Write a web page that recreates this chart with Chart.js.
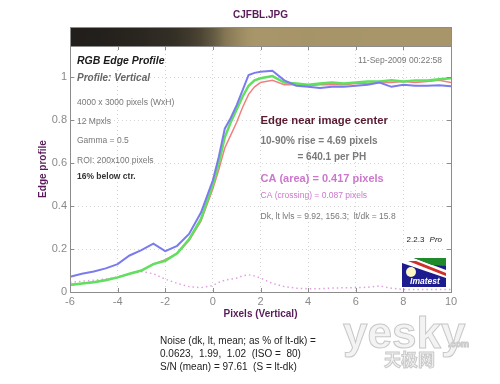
<!DOCTYPE html>
<html>
<head>
<meta charset="utf-8">
<script src="https://cdn.jsdelivr.net/npm/chart.js@4/dist/chart.umd.min.js"></script>
<style>
  html, body { margin: 0; padding: 0; background: #fff; }
  #wrap { width: 500px; height: 384px; }
</style>
</head>
<body>
<div id="wrap"><canvas id="edgeChart" width="500" height="384"></canvas></div>
<script>
const xPixels = [-6, -5.5, -5, -4.5, -4, -3.5, -3, -2.5, -2, -1.5, -1, -0.5, 0, 0.25, 0.5, 0.75, 1, 1.25, 1.5, 1.75, 2, 2.5, 3, 3.5, 4, 4.5, 5, 5.5, 6, 6.5, 7, 7.5, 8, 8.5, 9, 9.5, 10];
const blueEdge = [0.071, 0.085, 0.095, 0.11, 0.13, 0.17, 0.195, 0.225, 0.19, 0.215, 0.27, 0.37, 0.52, 0.63, 0.76, 0.81, 0.87, 0.94, 1.01, 1.02, 1.025, 1.03, 0.985, 0.96, 0.955, 0.95, 0.955, 0.955, 0.96, 0.965, 0.975, 0.955, 0.965, 0.96, 0.96, 0.962, 0.958];
const greenEdge = [0.033, 0.04, 0.045, 0.055, 0.068, 0.085, 0.1, 0.13, 0.145, 0.18, 0.245, 0.34, 0.5, 0.6, 0.72, 0.79, 0.85, 0.91, 0.96, 0.985, 0.995, 1.005, 0.975, 0.97, 0.965, 0.97, 0.975, 0.97, 0.975, 0.98, 0.98, 0.985, 0.98, 0.985, 0.985, 0.99, 0.995];
const redEdge = [0.035, 0.04, 0.047, 0.056, 0.068, 0.085, 0.1, 0.13, 0.15, 0.18, 0.24, 0.33, 0.48, 0.57, 0.67, 0.73, 0.79, 0.86, 0.92, 0.955, 0.975, 0.985, 0.965, 0.965, 0.96, 0.965, 0.965, 0.965, 0.97, 0.97, 0.975, 0.975, 0.98, 0.975, 0.98, 0.985, 0.975];
const caCurve = [0.045, 0.05, 0.055, 0.06, 0.07, 0.085, 0.095, 0.085, 0.06, 0.04, 0.025, 0.02, 0.03, 0.045, 0.055, 0.06, 0.065, 0.075, 0.08, 0.075, 0.065, 0.04, 0.025, 0.018, 0.015, 0.015, 0.018, 0.02, 0.02, 0.022, 0.028, 0.018, 0.012, 0.012, 0.012, 0.012, 0.012];

const xTicks = [-6, -4, -2, 0, 2, 4, 6, 8, 10];
const yTicks = [0, 0.2, 0.4, 0.6, 0.8, 1];
const yTickLabels = ['0', '0.2', '0.4', '0.6', '0.8', '1'];

const chartTitle = 'CJFBL.JPG';
const xTitle = 'Pixels (Vertical)';
const yTitle = 'Edge profile';
const noiseLines = [
    'Noise (dk, lt, mean; as % of lt-dk) =',
    '0.0623,  1.99,  1.02  (ISO =  80)',
    'S/N (mean) = 97.61  (S = lt-dk)'
];

const FONT = "'Liberation Sans', Arial, sans-serif";
const PURPLE = '#5a1a5a';

function toPoints(values) {
    return xPixels.map((x, i) => ({ x: x, y: values[i] }));
}

function mixColor(v) {
    const t = Math.max(0, Math.min(1, v / 0.98));
    const dark = [28, 26, 24];
    const tan = [168, 150, 106];
    const c = dark.map((d, i) => Math.round(d + (tan[i] - d) * t));
    return `rgb(${c[0]},${c[1]},${c[2]})`;
}

function drawText(ctx, text, x, y, font, color, align) {
    ctx.font = font;
    ctx.fillStyle = color;
    ctx.textAlign = align || 'left';
    ctx.textBaseline = 'middle';
    ctx.fillText(text, x, y);
}

const decorPlugin = {
    id: 'decor',
    beforeDraw(chart) {
        const ctx = chart.ctx;
        ctx.save();
        ctx.fillStyle = '#fff';
        ctx.fillRect(0, 0, chart.width, chart.height);
        ctx.restore();
    },
    afterDatasetsDraw(chart) {
        const ctx = chart.ctx;
        const { left, right, top, bottom } = chart.chartArea;
        const xs = chart.scales.x;
        const ys = chart.scales.y;
        ctx.save();

        // frame + inward ticks
        ctx.strokeStyle = '#8c8c8c';
        ctx.lineWidth = 1;
        ctx.strokeRect(left + 0.5, top - 19 + 0.5, right - left, bottom - top + 19);
        ctx.beginPath();
        xTicks.forEach(v => {
            const px = Math.round(xs.getPixelForValue(v)) + 0.5;
            ctx.moveTo(px, bottom); ctx.lineTo(px, bottom - 4);
            ctx.moveTo(px, top); ctx.lineTo(px, top + 4);
        });
        yTicks.forEach(v => {
            const py = Math.round(ys.getPixelForValue(v)) + 0.5;
            ctx.moveTo(left, py); ctx.lineTo(left + 4, py);
            ctx.moveTo(right, py); ctx.lineTo(right - 4, py);
        });
        ctx.stroke();

        // edge image strip above the plot
        const w = right - left;
        const grad = ctx.createLinearGradient(left, 0, right, 0);
        xPixels.forEach((x, i) => {
            grad.addColorStop((xs.getPixelForValue(x) - left) / w, mixColor(greenEdge[i]));
        });
        ctx.fillStyle = grad;
        ctx.fillRect(left + 1, top - 18, w - 1, 18);
        ctx.strokeStyle = '#8c8c8c';
        ctx.beginPath();
        ctx.moveTo(left, top + 0.5); ctx.lineTo(right, top + 0.5);
        ctx.stroke();

        // left info block
        const lx = left + 7;
        drawText(ctx, 'RGB Edge Profile', lx, 61, `italic bold 10.5px ${FONT}`, '#1a1a1a');
        drawText(ctx, 'Profile: Vertical', lx, 78, `italic bold 10px ${FONT}`, '#666');
        drawText(ctx, '4000 x 3000 pixels (WxH)', lx, 103, `8.5px ${FONT}`, '#777');
        drawText(ctx, '12 Mpxls', lx, 122, `8.5px ${FONT}`, '#777');
        drawText(ctx, 'Gamma = 0.5', lx, 141, `8.5px ${FONT}`, '#777');
        drawText(ctx, 'ROI: 200x100 pixels', lx, 161, `8.5px ${FONT}`, '#777');
        drawText(ctx, '16% below ctr.', lx, 177, `bold 8.5px ${FONT}`, '#333');
        drawText(ctx, '11-Sep-2009 00:22:58', right - 9, 61, `8.5px ${FONT}`, '#777', 'right');

        // right info block
        const rx = xs.getPixelForValue(2);
        drawText(ctx, 'Edge near image center', rx, 121, `bold 11.3px ${FONT}`, '#5a1a32');
        drawText(ctx, '10-90% rise = 4.69 pixels', rx, 141, `bold 10px ${FONT}`, '#7a7a7a');
        drawText(ctx, '= 640.1 per PH', rx + 37, 157, `bold 10px ${FONT}`, '#7a7a7a');
        drawText(ctx, 'CA (area) = 0.417 pixels', rx, 179, `bold 11px ${FONT}`, '#cc77cc');
        drawText(ctx, 'CA (crossing) = 0.087 pixels', rx, 196, `8.5px ${FONT}`, '#cc77cc');
        drawText(ctx, 'Dk, lt lvls = 9.92, 156.3;  lt/dk = 15.8', rx, 217, `8.5px ${FONT}`, '#777');

        // version + logo
        drawText(ctx, 'Pro', right - 9, 240, `italic 8px ${FONT}`, '#222', 'right');
        ctx.font = `italic 8px ${FONT}`;
        const proW = ctx.measureText('Pro').width;
        drawText(ctx, '2.2.3 ', right - 9 - proW - 3, 240, `8px ${FONT}`, '#222', 'right');

        const gx = right - 49, gy = bottom - 34, gw = 44, gh = 29;
        ctx.fillStyle = '#1c1c8e';
        ctx.fillRect(gx, gy, gw, gh);
        ctx.fillStyle = '#ffffff';
        ctx.beginPath();
        ctx.moveTo(gx, gy); ctx.lineTo(gx + 12, gy); ctx.lineTo(gx + gw, gy + 12);
        ctx.lineTo(gx + gw, gy + 20); ctx.lineTo(gx, gy + 5); ctx.closePath(); ctx.fill();
        ctx.fillStyle = '#d0302a';
        ctx.beginPath();
        ctx.moveTo(gx + 6, gy + 3); ctx.lineTo(gx + 14, gy + 3); ctx.lineTo(gx + gw, gy + 15);
        ctx.lineTo(gx + gw, gy + 18); ctx.closePath(); ctx.fill();
        ctx.fillStyle = '#1f8a2a';
        ctx.beginPath();
        ctx.moveTo(gx + 12, gy); ctx.lineTo(gx + gw, gy); ctx.lineTo(gx + gw, gy + 8);
        ctx.lineTo(gx + 30, gy + 7); ctx.closePath(); ctx.fill();
        ctx.fillStyle = '#fbf6c4';
        ctx.beginPath();
        ctx.arc(gx + 9, gy + 14, 5, 0, Math.PI * 2);
        ctx.fill();
        drawText(ctx, 'Imatest', gx + gw / 2 + 1, gy + 23.5, `italic bold 8.5px ${FONT}`, '#ffffff', 'center');

        ctx.restore();
    },
    afterDraw(chart) {
        const ctx = chart.ctx;
        const { left, right } = chart.chartArea;
        ctx.save();
        drawText(ctx, chartTitle, (left + right) / 2, 15, `bold 10px ${FONT}`, PURPLE, 'center');

        // watermark
        ctx.font = `bold 44px ${FONT}`;
        ctx.textAlign = 'left';
        ctx.textBaseline = 'alphabetic';
        ctx.fillStyle = '#f3f3f3';
        ctx.strokeStyle = '#c8c8c8';
        ctx.lineWidth = 1;
        ctx.fillText('yesky', 343, 348);
        ctx.strokeText('yesky', 343, 348);
        ctx.font = `bold 9px ${FONT}`;
        ctx.fillText('.com', 448, 347);
        ctx.strokeText('.com', 448, 347);
        ctx.font = `bold 17px 'Noto Sans CJK SC', sans-serif`;
        ctx.fillText('天极网', 384, 366);
        ctx.strokeText('天极网', 384, 366);

        noiseLines.forEach((t, i) => {
            drawText(ctx, t, 160, 341 + i * 13, `10px ${FONT}`, '#222');
        });
        ctx.restore();
    }
};

const ctx = document.getElementById('edgeChart').getContext('2d');
const edgeChart = new Chart(ctx, {
    type: 'line',
    data: {
        datasets: [
            { label: 'Blue', data: toPoints(blueEdge), borderColor: '#7b7bef', borderWidth: 2 },
            { label: 'Green', data: toPoints(greenEdge), borderColor: '#5fe05f', borderWidth: 2.5 },
            { label: 'Red', data: toPoints(redEdge), borderColor: '#f08080', borderWidth: 1.5 },
            { label: 'CA', data: toPoints(caCurve), borderColor: '#e0a0e0', borderWidth: 1.5, borderDash: [1.5, 3] }
        ]
    },
    options: {
        responsive: false,
        animation: false,
        devicePixelRatio: 1,
        layout: { padding: { top: 46, left: 35, right: 49, bottom: 62 } },
        elements: {
            point: { radius: 0 },
            line: { tension: 0, fill: false }
        },
        plugins: {
            legend: { display: false },
            tooltip: { enabled: false }
        },
        scales: {
            x: {
                type: 'linear',
                min: -6,
                max: 10,
                afterBuildTicks: scale => { scale.ticks = xTicks.map(v => ({ value: v })); },
                afterFit: scale => { scale.height = 30; },
                grid: { color: '#d4d4d4', drawTicks: false },
                border: { display: false, dash: [1, 3] },
                ticks: {
                    padding: 3,
                    color: '#8a8a8a',
                    font: { family: FONT, size: 11 },
                    maxRotation: 0,
                    callback: v => String(v)
                },
                title: {
                    display: true,
                    text: xTitle,
                    color: PURPLE,
                    font: { family: FONT, size: 10, weight: 'bold' },
                    padding: { top: 0, bottom: 2 }
                }
            },
            y: {
                min: 0,
                max: 1.145,
                afterBuildTicks: scale => { scale.ticks = yTicks.map(v => ({ value: v })); },
                afterFit: scale => { scale.width = 35; },
                grid: { color: '#d4d4d4', drawTicks: false },
                border: { display: false, dash: [1, 3] },
                ticks: {
                    padding: 3,
                    color: '#8a8a8a',
                    font: { family: FONT, size: 11 },
                    callback: (v, i) => yTickLabels[i]
                },
                title: {
                    display: true,
                    text: yTitle,
                    color: PURPLE,
                    font: { family: FONT, size: 10, weight: 'bold' },
                    padding: { top: 2, bottom: 0 }
                }
            }
        }
    },
    plugins: [decorPlugin]
});
</script>
</body>
</html>
